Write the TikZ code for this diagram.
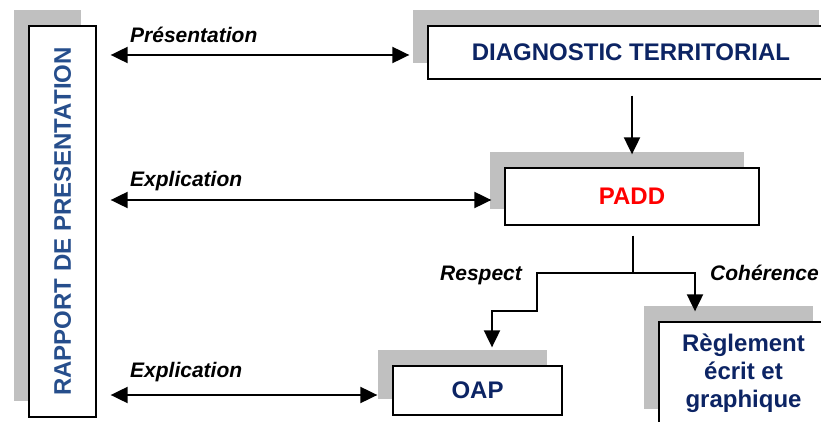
\documentclass[tikz,border=0pt]{standalone}
\usepackage{fontspec}
\setmainfont{Liberation Sans}
\usetikzlibrary{arrows.meta,shadows}
\definecolor{ombre}{RGB}{192,192,192}
\definecolor{bleu}{RGB}{38,78,140}
\definecolor{marine}{RGB}{12,36,100}
\newcommand{\boite}{\fontsize{24}{28}\selectfont\bfseries}
\newcommand{\lien}{\fontsize{21}{24}\selectfont\bfseries\itshape}
\begin{document}
\begin{tikzpicture}[x=1pt,y=-1pt,
	bloc/.style={draw, line width=1.3pt, fill=white, inner sep=0pt, font=\boite,
		general shadow={fill=ombre, shadow xshift=-15pt, shadow yshift=16pt}},
	fl/.style={line width=2pt, -{Triangle[length=17pt,width=16pt]}},
	dfl/.style={line width=2pt, {Triangle[length=17pt,width=16pt]}-{Triangle[length=17pt,width=16pt]}}]
	\useasboundingbox (0,0) rectangle (821,422);
	\node[bloc, rotate=90, minimum width=391pt, minimum height=67pt, text=bleu] (rapport) at (62.5,221.5) {RAPPORT DE PRESENTATION};
	\node[bloc, minimum width=406pt, minimum height=53pt, text=marine] (diag) at (631,52.5) {DIAGNOSTIC TERRITORIAL};
	\node[bloc, minimum width=254pt, minimum height=57pt, text=red] (padd) at (632,196.5) {PADD};
	\node[bloc, minimum width=169pt, minimum height=49pt, text=marine] (oap) at (477.5,390.5) {OAP};
	\node[bloc, minimum width=169pt, minimum height=103pt, text=marine, align=center] (regl) at (743.5,373.5) {R\`eglement\\ \'ecrit et\\ graphique};

	\node[anchor=base west, inner sep=0pt] (lpres) at (130,43) {\lien Pr\'esentation};
	\node[anchor=base west, inner sep=0pt] (lexpa) at (130,186) {\lien Explication};
	\node[anchor=base west, inner sep=0pt] (lexpb) at (130,377) {\lien Explication};
	\node[anchor=base west, inner sep=0pt] (lresp) at (440,280) {\lien Respect};
	\node[anchor=base west, inner sep=0pt] (lcoh) at (710,280) {\lien Coh\'erence};

	\draw[dfl, shorten <=14pt, shorten >=18pt] (rapport.south |- 0,55) -- (diag.west |- 0,55);
	\draw[dfl, shorten <=14pt, shorten >=13pt] (rapport.south |- 0,200) -- (padd.west |- 0,200);
	\draw[dfl, shorten <=14pt, shorten >=15pt] (rapport.south |- 0,395) -- (oap.west |- 0,395);
	\draw[fl, shorten <=16pt, shorten >=13pt] (diag.south -| padd.north) -- (padd.north);

	\coordinate (fourche) at (633,273);
	\draw[line width=2pt] (padd.south -| fourche) ++(0,10) -- (fourche);
	\draw[fl, shorten >=18pt] (fourche) -| (537,311) -| (oap.north -| 492,0);
	\draw[fl, shorten >=10pt] (fourche) -| (regl.north -| 695,0);
\end{tikzpicture}
\end{document}
